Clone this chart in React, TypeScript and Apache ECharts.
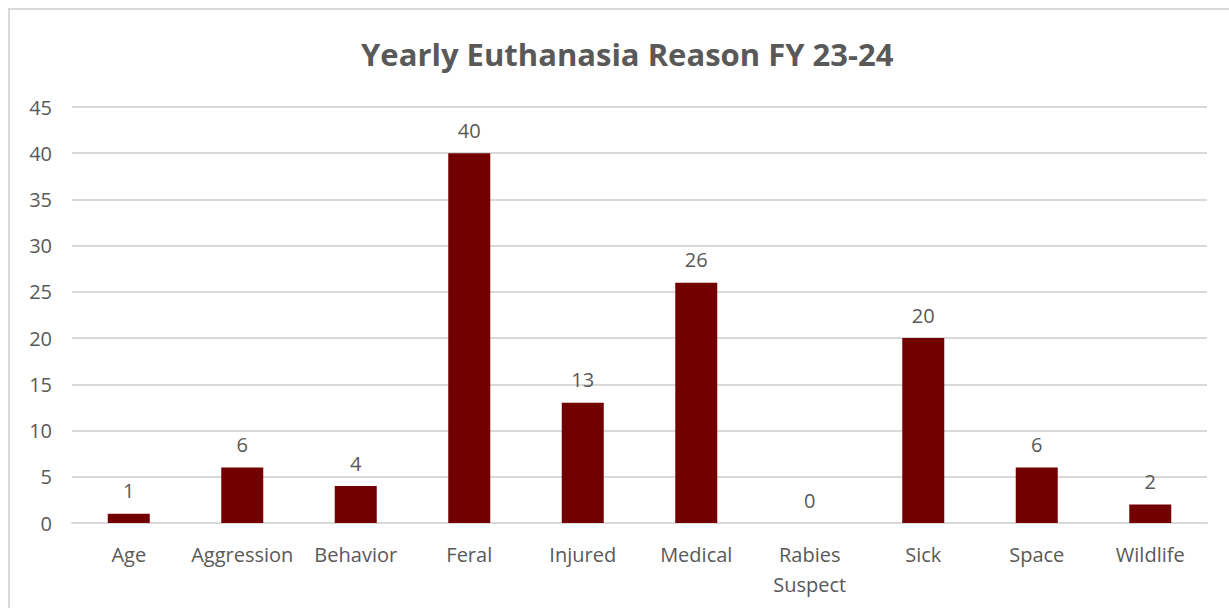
import React, { useEffect, useRef } from "react";
import * as echarts from "echarts";

const categories = ["Age", "Aggression", "Behavior", "Feral", "Injured", "Medical", "Rabies\nSuspect", "Sick", "Space", "Wildlife"];
const counts = [1, 6, 4, 40, 13, 26, 0, 20, 6, 2];
const titleText = "Yearly Euthanasia Reason FY 23-24";

export default function App() {
  const ref = useRef<HTMLDivElement>(null);
  useEffect(() => {
    if (!ref.current) return;
    const chart = echarts.init(ref.current, null, { renderer: "svg" });
    const font = "'Open Sans', sans-serif";
    chart.setOption({
      animation: false,
      backgroundColor: "#ffffff",
      title: {
        text: titleText,
        left: 356,
        top: 33,
        textStyle: { fontFamily: font, fontSize: 31, fontWeight: "bold", color: "#595959" },
      },
      grid: { left: 72, right: 22, top: 107, bottom: 85 },
      xAxis: {
        type: "category",
        data: categories,
        axisLine: { show: true, lineStyle: { color: "#D9D9D9", width: 2 } },
        axisTick: { show: false },
        axisLabel: { color: "#595959", fontFamily: font, fontSize: 20, margin: 16, lineHeight: 30, interval: 0 },
      },
      yAxis: {
        type: "value",
        min: 0,
        max: 45,
        interval: 5,
        axisLine: { show: false },
        axisTick: { show: false },
        splitLine: { lineStyle: { color: "#D9D9D9", width: 2 } },
        axisLabel: { color: "#595959", fontFamily: font, fontSize: 20, margin: 20 },
      },
      series: [
        {
          type: "bar",
          data: counts,
          barWidth: "37%",
          itemStyle: { color: "#730000" },
          label: { show: true, position: "top", distance: 13, color: "#595959", fontFamily: font, fontSize: 20 },
        },
      ],
    });
    return () => chart.dispose();
  }, []);
  return (
    <div style={{ position: "fixed", left: 0, top: 0, width: 1229, height: 608, background: "#fff" }}>
      <div ref={ref} style={{ position: "absolute", left: 0, top: 0, width: 1229, height: 608 }} />
      <div style={{ position: "absolute", left: 8, top: 8, width: 1240, height: 620, border: "2px solid #D9D9D9", boxSizing: "border-box", pointerEvents: "none" }} />
    </div>
  );
}
